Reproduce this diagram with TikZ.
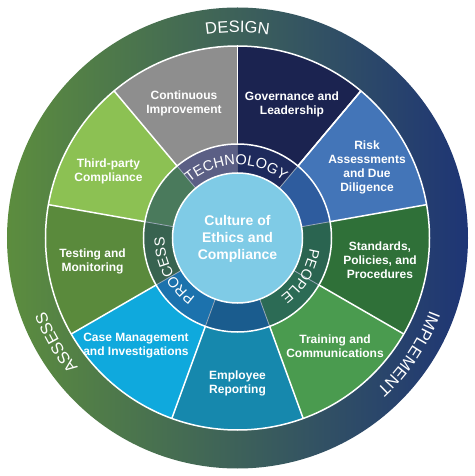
\documentclass[tikz,border=0pt]{standalone}
\usepackage{fontspec}
\setmainfont{Liberation Sans}
\usetikzlibrary{decorations.text}
\definecolor{ringL}{HTML}{5C8D3E}
\definecolor{ringM}{HTML}{22656E}
\definecolor{ringR}{HTML}{1E3575}
\definecolor{wGov}{HTML}{1B2350}
\definecolor{wCont}{HTML}{8E8E8E}
\definecolor{wThird}{HTML}{8CC153}
\definecolor{wTest}{HTML}{5A8A3C}
\definecolor{wCase}{HTML}{0FA9DD}
\definecolor{wEmp}{HTML}{1688AD}
\definecolor{wTrain}{HTML}{4A9B4F}
\definecolor{wStd}{HTML}{2F7038}
\definecolor{wRisk}{HTML}{4375B8}
\definecolor{mGov}{HTML}{1E2A5C}
\definecolor{mCont}{HTML}{5B5F85}
\definecolor{mThird}{HTML}{4A7A5C}
\definecolor{mTest}{HTML}{386350}
\definecolor{mCase}{HTML}{1C72AD}
\definecolor{mEmp}{HTML}{1A5C8E}
\definecolor{mTrain}{HTML}{2C6B55}
\definecolor{mStd}{HTML}{2A6450}
\definecolor{mRisk}{HTML}{2E5C9E}
\definecolor{core}{HTML}{7FCBE6}
\definecolor{msep}{HTML}{9AA8B8}
\newcommand\mysector[4]{\fill[#1] (0,0) -- (#2:#4) arc[start angle=#2, end angle=#3, radius=#4] -- cycle;}
\newcommand\ringfont{\fontsize{16.5}{18}\selectfont}
\newcommand\midfont{\fontsize{14.5}{16}\selectfont}
\begin{document}
\begin{tikzpicture}[x=1pt,y=1pt,
  lbl/.style={text=white, font=\bfseries\fontsize{12}{14}\selectfont, align=center, inner sep=0pt},
  sepline/.style={white, line width=1.5pt},
  midsep/.style={msep, line width=0.8pt},
  arctext/.style={decorate, decoration={text along path, text align=center, text color=white, text={#1}}}]
\useasboundingbox (-237.5,-238) rectangle (236.5,238);
\fill[white] (-237.5,-238) rectangle (236.5,238);
% outer ring
\shade[left color=ringL, middle color=ringM, right color=ringR] (0,0) circle[radius=230.5pt];
% wedges
\mysector{wGov}{50}{90}{192pt}
\mysector{wCont}{90}{130}{192pt}
\mysector{wThird}{130}{170}{192pt}
\mysector{wTest}{170}{210}{192pt}
\mysector{wCase}{210}{250}{192pt}
\mysector{wEmp}{250}{290}{192pt}
\mysector{wTrain}{290}{330}{192pt}
\mysector{wStd}{-30}{10}{192pt}
\mysector{wRisk}{10}{50}{192pt}
\draw[sepline] (0,0) circle[radius=192pt];
\foreach \a in {50,90,...,410} \draw[sepline] (\a:94pt) -- (\a:192pt);
% middle ring
\mysector{mGov}{50}{90}{94pt}
\mysector{mCont}{90}{130}{94pt}
\mysector{mThird}{130}{170}{94pt}
\mysector{mTest}{170}{210}{94pt}
\mysector{mCase}{210}{250}{94pt}
\mysector{mEmp}{250}{290}{94pt}
\mysector{mTrain}{290}{330}{94pt}
\mysector{mStd}{-30}{10}{94pt}
\mysector{mRisk}{10}{50}{94pt}
\foreach \a in {50,130,170,210,250,290,330,370} \draw[midsep] (\a:65pt) -- (\a:94pt);
\draw[sepline] (0,0) circle[radius=94pt];
\fill[core] (0,0) circle[radius=65pt];
\draw[sepline] (0,0) circle[radius=65pt];
% ring texts
\path[arctext={|\ringfont|DESIGN}] (150:205.5pt) arc[start angle=150, end angle=30, radius=205.5pt];
\path[arctext={|\ringfont|IMPLEMENT}] (26:205.5pt) arc[start angle=26, end angle=-94, radius=205.5pt];
\path[arctext={|\ringfont|ASSESS}] (-90:205.5pt) arc[start angle=-90, end angle=-210, radius=205.5pt];
\path[arctext={|\midfont|TECHNOLOGY}] (151:73pt) arc[start angle=151, end angle=31, radius=73pt];
\path[arctext={|\midfont|PEOPLE}] (29:73pt) arc[start angle=29, end angle=-91, radius=73pt];
\path[arctext={|\midfont|PROCESS}] (-93:73pt) arc[start angle=-93, end angle=-213, radius=73pt];
% labels
\node[lbl] (cont) at (-53.5,135) {Continuous\\Improvement};
\node[lbl] (gov) at (54.5,134) {Governance and\\Leadership};
\node[lbl] (risk) at (129.5,71) {Risk\\Assessments\\and Due\\Diligence};
\node[lbl] (std) at (142.5,-22) {Standards,\\Policies, and\\Procedures};
\node[lbl] (train) at (97.5,-108) {Training and\\Communications};
\node[lbl] (emp) at (0,-145) {Employee\\Reporting};
\node[lbl] (case) at (-101.5,-108) {Case Management\\and Investigations};
\node[lbl] (test) at (-145,-23.5) {Testing and\\Monitoring};
\node[lbl] (third) at (-129,66.5) {Third-party\\Compliance};
\node[lbl, font=\bfseries\fontsize{14}{17}\selectfont] (culture) at (0,-1) {Culture of\\Ethics and\\Compliance};
\end{tikzpicture}
\end{document}
